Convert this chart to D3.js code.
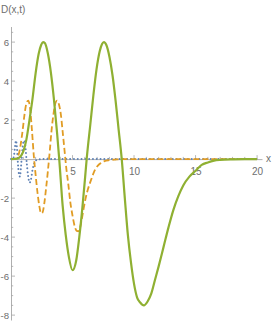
<!DOCTYPE html>
<html>
<head>
<meta charset="utf-8">
<script src="https://cdn.jsdelivr.net/npm/d3@7"></script>
<style>
  body { margin: 0; background: #fff; }
  svg text { font-family: "Liberation Sans", Arial, sans-serif; }
</style>
</head>
<body>
<div id="chart"></div>
<script>
// values
const blueX = [0, 0.15, 0.25, 0.32, 0.4, 0.48, 0.56, 0.64, 0.72, 0.8, 0.9, 1.0, 1.08, 1.16, 1.28, 1.4, 1.52, 1.62, 1.75, 1.9, 2.05, 2.3, 2.6, 5, 10, 15, 20]
const blueY = [0, 0, 0.2, 0.6, 0.95, 0.6, -0.2, -0.75, -0.9, -0.5, 0.3, 0.85, 0.95, 0.7, -0.2, -0.9, -1.2, -1.05, -0.55, -0.2, -0.06, -0.01, 0, 0, 0, 0, 0]

const orangeX = [0, 0.3, 0.5, 0.65, 0.8, 0.95, 1.1, 1.25, 1.4, 1.55, 1.7, 1.85, 2.0, 2.15, 2.3, 2.45, 2.55, 2.7, 2.85, 3.0, 3.15, 3.3, 3.45, 3.6, 3.75, 3.9, 4.05, 4.2, 4.35, 4.5, 4.66, 4.82, 5.0, 5.2, 5.35, 5.47, 5.6, 5.75, 5.9, 6.05, 6.25, 6.5, 6.75, 7.0, 7.3, 7.6, 8.0, 8.5, 9.0, 10, 12, 15, 20]
const orangeY = [0, 0.01, 0.08, 0.3, 0.8, 1.5, 2.3, 2.85, 3.0, 2.6, 1.5, 0.2, -0.8, -1.7, -2.4, -2.78, -2.75, -2.3, -1.5, -0.6, 0.4, 1.5, 2.3, 2.85, 3.0, 2.8, 2.3, 1.4, 0.45, -0.5, -1.3, -2.2, -2.9, -3.5, -3.68, -3.7, -3.55, -3.1, -2.55, -2.05, -1.55, -1.08, -0.65, -0.38, -0.2, -0.1, -0.05, -0.02, 0, 0, 0, 0, 0]

const greenX = [0, 0.5, 0.75, 1.0, 1.25, 1.5, 1.75, 2.0, 2.25, 2.45, 2.6, 2.75, 3.0, 3.25, 3.5, 3.75, 3.92, 4.2, 4.45, 4.7, 5.0, 5.3, 5.55, 5.8, 6.0, 6.15, 6.45, 6.7, 6.95, 7.2, 7.4, 7.55, 7.75, 8.0, 8.25, 8.5, 8.75, 9.0, 9.25, 9.5, 9.75, 10.0, 10.25, 10.5, 10.8, 11.1, 11.4, 11.7, 12.0, 12.4, 12.8, 13.2, 13.6, 14.0, 14.5, 15.0, 15.5, 16.0, 16.5, 17.0, 18.0, 19.0, 20.0]
const greenY = [0, 0.02, 0.12, 0.4, 1.0, 2.0, 3.1, 4.4, 5.4, 5.85, 6.0, 5.95, 5.4, 4.4, 3.0, 1.3, 0, -2.4, -3.9, -5.0, -5.7, -5.2, -4.0, -2.5, -1.1, 0, 1.8, 3.3, 4.6, 5.5, 5.9, 6.0, 5.85, 5.25, 4.3, 3.0, 1.5, 0, -2.0, -3.9, -5.3, -6.4, -7.1, -7.35, -7.5, -7.3, -6.9, -6.2, -5.5, -4.5, -3.5, -2.6, -1.9, -1.35, -0.9, -0.6, -0.3, -0.17, -0.08, -0.04, -0.01, 0, 0]

const xMajor = [5, 10, 15, 20]
const yMajor = [-8, -6, -4, -2, 2, 4, 6]

const width = 273, height = 327
const svg = d3.select("#chart").append("svg").attr("width", width).attr("height", height)

const x = d3.scaleLinear().domain([0, 20.4]).range([11, 262])
const y = d3.scaleLinear().domain([-8.25, 6.8]).range([320, 26.5])

const axisCol = "#a6a6a6", textCol = "#6e6e6e"

// minor ticks
const g = svg.append("g")
g.selectAll(".mx").data(d3.range(1, 21)).enter().append("line")
  .attr("x1", d => x(d)).attr("x2", d => x(d))
  .attr("y1", y(0)).attr("y2", d => y(0) - (d % 5 == 0 ? 4 : 2.2))
  .attr("stroke", axisCol).attr("stroke-width", 0.8)
g.selectAll(".my").data(d3.range(-16, 14).map(d => d / 2).filter(d => d != 0)).enter().append("line")
  .attr("y1", d => y(d)).attr("y2", d => y(d))
  .attr("x1", x(0)).attr("x2", d => x(0) + (d % 2 == 0 ? 4 : 2.2))
  .attr("stroke", axisCol).attr("stroke-width", 0.8)

// axes with labels
const xAxis = d3.axisBottom(x).tickValues(xMajor).tickSizeInner(0).tickSizeOuter(0).tickPadding(9)
const yAxis = d3.axisLeft(y).tickValues(yMajor).tickSizeInner(0).tickSizeOuter(0).tickPadding(2)
  .tickFormat(d => d)

const xg = svg.append("g").attr("transform", `translate(0,${y(0)})`).call(xAxis)
const yg = svg.append("g").attr("transform", `translate(${x(0)},0)`).call(yAxis)
;[xg, yg].forEach(a => {
  a.select(".domain").attr("stroke", axisCol).attr("stroke-width", 0.9)
  a.selectAll("text").attr("fill", textCol).attr("font-size", 10)
})
yg.selectAll("text").attr("font-size", 9.6)

svg.append("text").attr("x", 1).attr("y", 13).text("D(x,t)")
  .attr("fill", textCol).attr("font-size", 10)
svg.append("text").attr("x", 266).attr("y", 162).text("x")
  .attr("fill", textCol).attr("font-size", 10)

const line = d3.line().x(d => x(d[0])).y(d => y(d[1])).curve(d3.curveMonotoneX)

svg.append("path").datum(d3.zip(blueX, blueY)).attr("d", line)
  .attr("fill", "none").attr("stroke", "#5e81b5").attr("stroke-width", 2)
  .attr("stroke-dasharray", "0,3.8").attr("stroke-linecap", "round")
svg.append("path").datum(d3.zip(orangeX, orangeY)).attr("d", line)
  .attr("fill", "none").attr("stroke", "#e19c24").attr("stroke-width", 1.8)
  .attr("stroke-dasharray", "6,3")
svg.append("path").datum(d3.zip(greenX, greenY)).attr("d", line)
  .attr("fill", "none").attr("stroke", "#8fb032").attr("stroke-width", 2.2)
</script>
</body>
</html>
